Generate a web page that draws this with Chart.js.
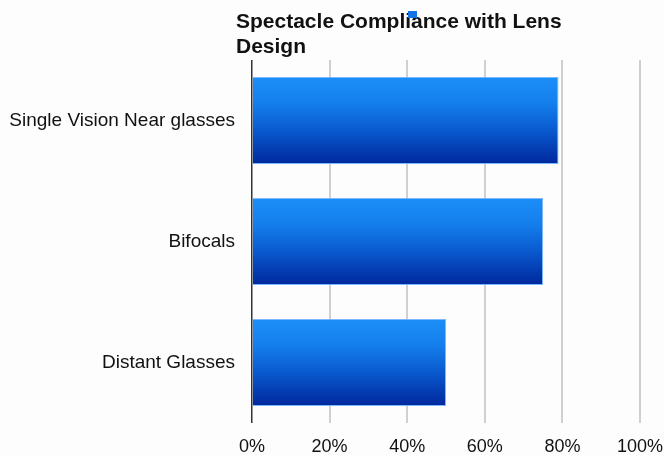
<!DOCTYPE html>
<html>
<head>
<meta charset="utf-8">
<script src="https://cdn.jsdelivr.net/npm/chart.js@4/dist/chart.umd.min.js"></script>
<style>
  html, body { margin: 0; padding: 0; background: #fdfdfd; }
  canvas { display: block; }
</style>
</head>
<body>
<canvas id="kaart" width="664" height="455"></canvas>
<script>
// data
var categories = ['Single Vision Near glasses', 'Bifocals', 'Distant Glasses'];
var compliance = [79, 75, 50];
var tickValues = [0, 20, 40, 60, 80, 100];
var titleLines = ['Spectacle Compliance with Lens', 'Design'];

var barShare = 0.72;

// verticale verloop per balk
function barFill(context) {
  var chart = context.chart;
  var yScale = chart.scales.y;
  if (!yScale || context.dataIndex === undefined) return '#1163d6';
  var center = yScale.getPixelForValue(context.dataIndex);
  var band = (yScale.bottom - yScale.top) / categories.length;
  var half = band * barShare / 2;
  if (!isFinite(center) || !isFinite(half)) return '#1163d6';
  var g = chart.ctx.createLinearGradient(0, center - half, 0, center + half);
  g.addColorStop(0, '#1c8ef8');
  g.addColorStop(0.3, '#147fec');
  g.addColorStop(0.6, '#0a5bd0');
  g.addColorStop(1, '#00279c');
  return g;
}

// titel en legenda-blokje
var titlePlugin = {
  id: 'titlePlugin',
  afterDraw: function(chart) {
    var ctx = chart.ctx;
    ctx.save();
    ctx.font = 'bold 21px "Liberation Sans", Arial, sans-serif';
    ctx.fillStyle = '#111';
    ctx.textBaseline = 'alphabetic';
    ctx.fillText(titleLines[0], 236, 28);
    ctx.fillText(titleLines[1], 236, 53);
    ctx.fillStyle = '#1673e6';
    ctx.fillRect(408, 11, 9, 7);
    ctx.restore();
  }
};

function tekenen() {
  var ctx = document.getElementById('kaart');
  new Chart(ctx, {
    type: 'bar',
    data: {
      labels: categories,
      datasets: [{
        label: '',
        data: compliance,
        backgroundColor: barFill,
        borderColor: 'rgba(110, 175, 255, 0.9)',
        borderWidth: { top: 1, right: 1, bottom: 1, left: 0 },
        borderSkipped: false,
        categoryPercentage: 1,
        barPercentage: barShare
      }]
    },
    options: {
      indexAxis: 'y',
      responsive: false,
      animation: false,
      layout: { padding: { top: 60, right: 24, left: 0, bottom: 0 } },
      plugins: {
        legend: { display: false },
        title: { display: false },
        tooltip: { enabled: false }
      },
      scales: {
        x: {
          min: 0,
          max: 100,
          afterBuildTicks: function(scale) {
            scale.ticks = tickValues.map(function(v) { return { value: v }; });
          },
          afterFit: function(scale) {
            scale.height = 32;
            scale.paddingLeft = 0;
            scale.paddingRight = 0;
          },
          ticks: {
            callback: function(v) { return v + '%'; },
            color: '#111',
            padding: 13,
            font: { family: '"Liberation Sans", Arial, sans-serif', size: 18 }
          },
          grid: {
            drawTicks: false,
            color: function(c) { return c.tick && c.tick.value === 0 ? '#333' : '#d0d0d0'; },
            lineWidth: function(c) { return c.tick && c.tick.value === 0 ? 1.5 : 2; }
          },
          border: { display: false }
        },
        y: {
          afterFit: function(scale) { scale.width = 252; },
          ticks: {
            color: '#111',
            padding: 17,
            font: { family: '"Liberation Sans", Arial, sans-serif', size: 19 }
          },
          grid: { display: false, drawTicks: false },
          border: { display: false }
        }
      }
    },
    plugins: [titlePlugin]
  });
}

window.onload = function() {
  tekenen();
};
</script>
</body>
</html>
